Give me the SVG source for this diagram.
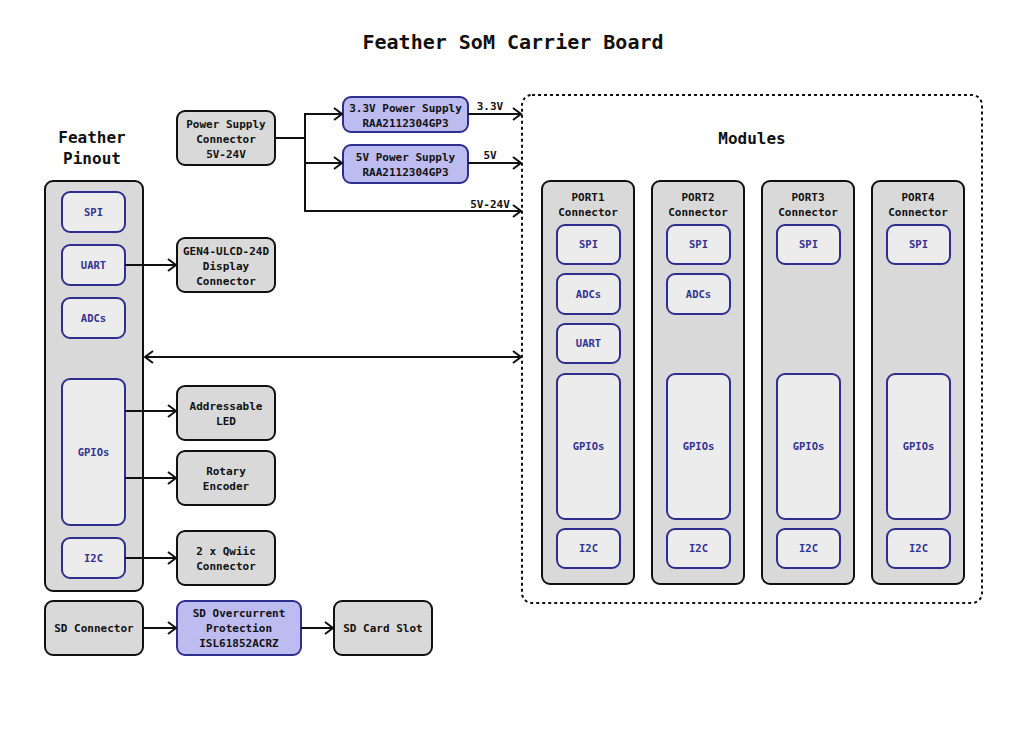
<svg xmlns="http://www.w3.org/2000/svg" width="1027" height="748" viewBox="0 0 1027 748">
<style>
text{font-family:"DejaVu Sans Mono","Liberation Mono",monospace;font-weight:bold;text-anchor:middle;fill:#111}
.g{fill:#d9d9d9;stroke:#111;stroke-width:2}
.p{fill:#bcbcf0;stroke:#2e2e8f;stroke-width:2}
.i{fill:#ececec;stroke:#2e2e8f;stroke-width:2}
.t{font-size:11px}
.b{font-size:10.5px;fill:#33338f}
.h{font-size:16px}
.c{fill:none;stroke:#111;stroke-width:2}
.l{font-size:11px}
</style>
<defs>
<marker id="a" markerWidth="12" markerHeight="14" refX="10" refY="7" orient="auto" markerUnits="userSpaceOnUse">
<path d="M2,1 L10,7 L2,13" fill="none" stroke="#111" stroke-width="2"/>
</marker>
<marker id="s" markerWidth="12" markerHeight="14" refX="2" refY="7" orient="auto" markerUnits="userSpaceOnUse">
<path d="M10,1 L2,7 L10,13" fill="none" stroke="#111" stroke-width="2"/>
</marker>
</defs>
<rect width="1027" height="748" fill="#fff"/>
<text x="513" y="49" style="font-size:20px">Feather SoM Carrier Board</text>

<g id="modules">
<rect x="522" y="95" width="460" height="508" rx="10" fill="none" stroke="#111" stroke-width="2" stroke-dasharray="3,3"/>
<text x="752" y="144" class="h">Modules</text>
</g>

<g id="feather">
<text x="92" y="143" class="h">Feather</text>
<text x="92" y="164" class="h">Pinout</text>
<rect class="g" x="45" y="181" width="98" height="410" rx="8"/>
<rect class="i" x="62" y="192" width="63" height="40" rx="8"/><text class="b" x="93.5" y="216">SPI</text>
<rect class="i" x="62" y="245" width="63" height="40" rx="8"/><text class="b" x="93.5" y="269">UART</text>
<rect class="i" x="62" y="298" width="63" height="40" rx="8"/><text class="b" x="93.5" y="322">ADCs</text>
<rect class="i" x="62" y="379" width="63" height="146" rx="8"/><text class="b" x="93.5" y="456">GPIOs</text>
<rect class="i" x="62" y="538" width="63" height="40" rx="8"/><text class="b" x="93.5" y="562">I2C</text>
</g>

<g id="psc">
<rect class="g" x="177" y="111" width="98" height="54" rx="8"/>
<text class="t" x="226" y="128">Power Supply</text>
<text class="t" x="226" y="143">Connector</text>
<text class="t" x="226" y="158">5V-24V</text>
</g>
<g id="ps33">
<rect class="p" x="343" y="97" width="125" height="35" rx="8"/>
<text class="t" x="405.5" y="112">3.3V Power Supply</text>
<text class="t" x="405.5" y="127">RAA2112304GP3</text>
</g>
<g id="ps5">
<rect class="p" x="343" y="145" width="125" height="38" rx="8"/>
<text class="t" x="405.5" y="161">5V Power Supply</text>
<text class="t" x="405.5" y="176">RAA2112304GP3</text>
</g>
<g id="gen4">
<rect class="g" x="177" y="238" width="98" height="54" rx="8"/>
<text class="t" x="226" y="255">GEN4-ULCD-24D</text>
<text class="t" x="226" y="270">Display</text>
<text class="t" x="226" y="285">Connector</text>
</g>
<g id="led">
<rect class="g" x="177" y="386" width="98" height="54" rx="8"/>
<text class="t" x="226" y="410">Addressable</text>
<text class="t" x="226" y="425">LED</text>
</g>
<g id="rotary">
<rect class="g" x="177" y="451" width="98" height="54" rx="8"/>
<text class="t" x="226" y="475">Rotary</text>
<text class="t" x="226" y="490">Encoder</text>
</g>
<g id="qwiic">
<rect class="g" x="177" y="531" width="98" height="54" rx="8"/>
<text class="t" x="226" y="555">2 x Qwiic</text>
<text class="t" x="226" y="570">Connector</text>
</g>
<g id="sdconn">
<rect class="g" x="45" y="601" width="98" height="54" rx="8"/>
<text class="t" x="94" y="632">SD Connector</text>
</g>
<g id="sdoc">
<rect class="p" x="177" y="601" width="124" height="54" rx="8"/>
<text class="t" x="239" y="617">SD Overcurrent</text>
<text class="t" x="239" y="632">Protection</text>
<text class="t" x="239" y="647">ISL61852ACRZ</text>
</g>
<g id="sdslot">
<rect class="g" x="334" y="601" width="98" height="54" rx="8"/>
<text class="t" x="383" y="632">SD Card Slot</text>
</g>

<g id="port1">
<rect class="g" x="542" y="181" width="92" height="403" rx="8"/>
<text class="t" x="588" y="201">PORT1</text><text class="t" x="588" y="216">Connector</text>
<rect class="i" x="557" y="225" width="63" height="39" rx="8"/><text class="b" x="588.5" y="248">SPI</text>
<rect class="i" x="557" y="274" width="63" height="40" rx="8"/><text class="b" x="588.5" y="298">ADCs</text>
<rect class="i" x="557" y="324" width="63" height="39" rx="8"/><text class="b" x="588.5" y="347">UART</text>
<rect class="i" x="557" y="374" width="63" height="145" rx="8"/><text class="b" x="588.5" y="450">GPIOs</text>
<rect class="i" x="557" y="529" width="63" height="39" rx="8"/><text class="b" x="588.5" y="552">I2C</text>
</g>
<g id="port2">
<rect class="g" x="652" y="181" width="92" height="403" rx="8"/>
<text class="t" x="698" y="201">PORT2</text><text class="t" x="698" y="216">Connector</text>
<rect class="i" x="667" y="225" width="63" height="39" rx="8"/><text class="b" x="698.5" y="248">SPI</text>
<rect class="i" x="667" y="274" width="63" height="40" rx="8"/><text class="b" x="698.5" y="298">ADCs</text>
<rect class="i" x="667" y="374" width="63" height="145" rx="8"/><text class="b" x="698.5" y="450">GPIOs</text>
<rect class="i" x="667" y="529" width="63" height="39" rx="8"/><text class="b" x="698.5" y="552">I2C</text>
</g>
<g id="port3">
<rect class="g" x="762" y="181" width="92" height="403" rx="8"/>
<text class="t" x="808" y="201">PORT3</text><text class="t" x="808" y="216">Connector</text>
<rect class="i" x="777" y="225" width="63" height="39" rx="8"/><text class="b" x="808.5" y="248">SPI</text>
<rect class="i" x="777" y="374" width="63" height="145" rx="8"/><text class="b" x="808.5" y="450">GPIOs</text>
<rect class="i" x="777" y="529" width="63" height="39" rx="8"/><text class="b" x="808.5" y="552">I2C</text>
</g>
<g id="port4">
<rect class="g" x="872" y="181" width="92" height="403" rx="8"/>
<text class="t" x="918" y="201">PORT4</text><text class="t" x="918" y="216">Connector</text>
<rect class="i" x="887" y="225" width="63" height="39" rx="8"/><text class="b" x="918.5" y="248">SPI</text>
<rect class="i" x="887" y="374" width="63" height="145" rx="8"/><text class="b" x="918.5" y="450">GPIOs</text>
<rect class="i" x="887" y="529" width="63" height="39" rx="8"/><text class="b" x="918.5" y="552">I2C</text>
</g>

<g id="connectors">
<path class="c" d="M275,138 H305"/>
<path class="c" d="M305,114 V211 H521" marker-end="url(#a)"/>
<path class="c" d="M304,114 H342" marker-end="url(#a)"/>
<path class="c" d="M305,163 H342" marker-end="url(#a)"/>
<path class="c" d="M468,114 H521" marker-end="url(#a)"/>
<path class="c" d="M468,163 H521" marker-end="url(#a)"/>
<text class="l" x="490" y="110">3.3V</text>
<text class="l" x="490" y="159">5V</text>
<text class="l" x="490" y="208">5V-24V</text>
<path class="c" d="M125,265 H176" marker-end="url(#a)"/>
<path class="c" d="M145,357 H521" marker-start="url(#s)" marker-end="url(#a)"/>
<path class="c" d="M125,411 H176" marker-end="url(#a)"/>
<path class="c" d="M125,478 H176" marker-end="url(#a)"/>
<path class="c" d="M125,558 H176" marker-end="url(#a)"/>
<path class="c" d="M143,628 H176" marker-end="url(#a)"/>
<path class="c" d="M301,628 H333" marker-end="url(#a)"/>
</g>
</svg>
